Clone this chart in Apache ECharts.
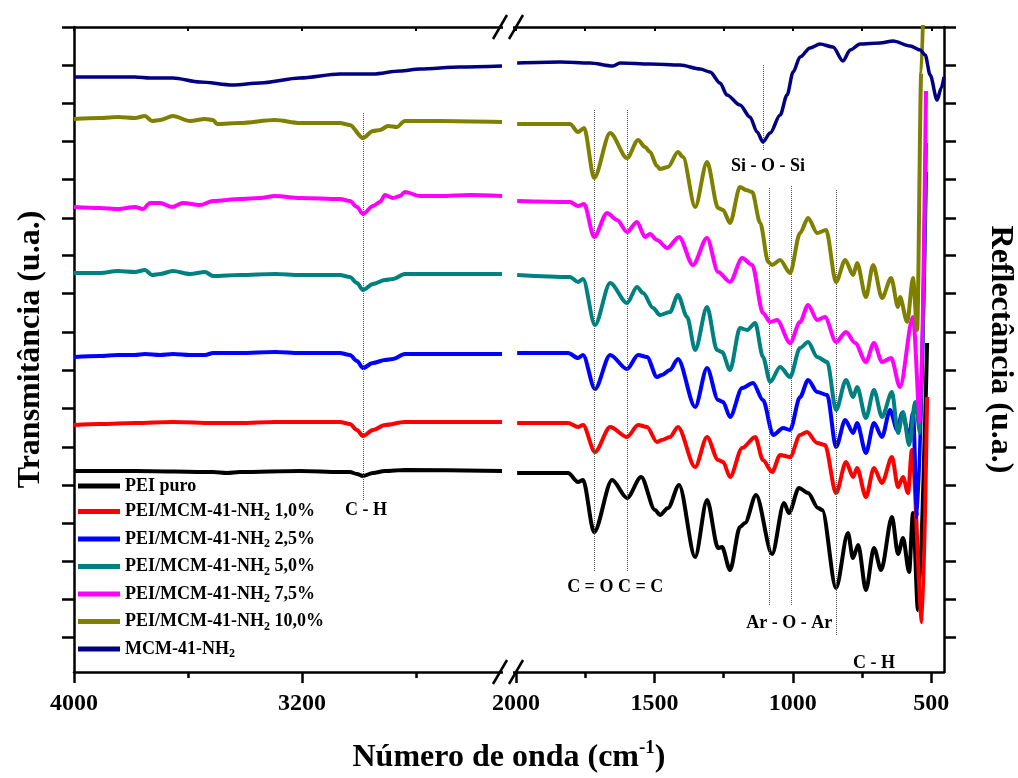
<!DOCTYPE html>
<html>
<head>
<meta charset="utf-8">
<script src="https://cdn.jsdelivr.net/npm/echarts@6/dist/echarts.min.js"></script>
<style>
  html, body { margin: 0; padding: 0; background: #fff; }
  #main { width: 1018px; height: 778px; }
</style>
</head>
<body>
<div id="main"></div>
<script>
// espectros FTIR: [numero de onda, transmitancia (u.a., com deslocamento)]
// trecho 4000-2500 cm-1 (esquerda) e 2000-450 cm-1 (direita)
var peiLeft = [[4000,20.1],[3786,20.1],[3512,20.0],[3463,19.9],[3418,20.0],[3207,20.1],[3067,20.0],[3032,20.0],[3007,19.8],[2986,19.6],[2951,19.9],[2909,20.1],[2839,20.2],[2498,20.1]];
var peiRight = [[1996,19.9],[1812,19.9],[1776,19.0],[1758,19.2],[1718,14.0],[1653,19.2],[1599,17.4],[1548,19.5],[1498,16.2],[1480,15.7],[1451,16.4],[1411,18.7],[1353,11.5],[1310,17.2],[1270,12.4],[1256,12.5],[1227,10.2],[1191,14.5],[1173,14.9],[1133,17.7],[1075,11.8],[1032,16.9],[1014,15.9],[978,18.4],[945,17.9],[909,16.4],[894,16.2],[844,8.4],[801,13.9],[783,11.4],[764,12.7],[736,8.2],[707,12.4],[681,10.2],[642,15.5],[620,11.8],[602,13.4],[580,10.0],[566,15.9],[548,6.2],[515,32.9]];

var p10Left = [[4000,24.7],[3909,24.8],[3786,24.9],[3653,25.0],[3512,24.9],[3418,24.9],[3295,25.0],[3067,25.0],[3032,24.8],[3007,24.2],[2986,23.6],[2951,24.2],[2909,24.7],[2839,25.0],[2498,25.0]];
var p10Right = [[1996,24.9],[1812,24.9],[1776,24.5],[1758,24.7],[1715,22.0],[1660,24.5],[1599,23.5],[1559,24.7],[1527,24.5],[1491,23.0],[1473,23.2],[1444,23.5],[1415,24.5],[1353,20.5],[1310,23.5],[1270,21.2],[1252,21.0],[1227,19.5],[1183,22.4],[1136,23.5],[1108,21.2],[1075,20.0],[1046,21.7],[1010,21.5],[974,23.7],[949,24.0],[912,22.9],[884,22.7],[844,17.9],[808,21.0],[782,19.5],[768,20.4],[736,17.5],[707,20.4],[678,18.9],[642,21.5],[620,18.5],[602,19.5],[584,17.9],[570,22.2],[533,5.0],[515,27.5]];

var p25Left = [[4000,31.5],[3909,31.6],[3846,31.7],[3786,31.7],[3751,31.8],[3698,31.7],[3653,31.8],[3593,31.7],[3540,31.7],[3512,31.9],[3418,31.9],[3295,32.0],[3207,31.9],[3067,31.9],[3032,31.7],[3007,31.1],[2986,30.4],[2951,30.9],[2909,31.2],[2881,31.3],[2839,31.8],[2716,31.8],[2498,31.8]];
var p25Right = [[1996,31.9],[1812,31.9],[1776,31.4],[1758,31.7],[1715,28.3],[1660,31.7],[1599,30.3],[1559,31.7],[1527,31.5],[1491,29.5],[1473,29.7],[1444,30.2],[1415,31.3],[1353,26.5],[1310,30.4],[1270,27.2],[1252,27.0],[1227,25.5],[1183,28.4],[1144,28.9],[1108,27.2],[1071,23.7],[1035,24.4],[1010,24.2],[974,27.5],[945,29.2],[912,28.0],[876,27.7],[844,22.5],[811,25.2],[782,23.9],[768,24.9],[736,21.9],[707,24.9],[678,23.5],[649,26.2],[623,24.2],[605,25.9],[580,23.5],[566,25.9],[551,15.5],[519,50.0]];

var p50Left = [[4000,39.9],[3909,39.9],[3846,40.1],[3786,40.0],[3751,40.2],[3726,39.7],[3698,39.8],[3653,40.1],[3593,39.8],[3540,40.0],[3512,39.6],[3418,39.7],[3295,39.8],[3207,39.7],[3067,39.7],[3032,39.5],[3007,38.9],[2986,38.2],[2951,38.8],[2909,39.2],[2881,39.3],[2839,39.8],[2716,39.8],[2498,39.8]];
var p50Right = [[1996,39.7],[1805,39.5],[1776,39.0],[1758,39.3],[1715,34.7],[1660,38.9],[1599,36.9],[1563,38.5],[1541,37.9],[1505,36.4],[1480,35.7],[1444,36.0],[1415,37.7],[1382,35.5],[1353,32.2],[1310,36.5],[1274,32.2],[1256,32.0],[1227,30.2],[1191,34.4],[1165,34.2],[1136,34.9],[1108,31.5],[1082,29.0],[1046,30.5],[1010,29.5],[974,32.4],[945,33.0],[912,31.5],[876,31.0],[844,26.2],[808,29.2],[782,27.5],[768,28.5],[736,25.4],[707,28.2],[678,25.5],[642,28.0],[620,23.9],[602,26.0],[580,22.7],[558,27.0],[540,23.9],[519,52.9]];

var p75Left = [[4000,46.5],[3909,46.4],[3846,46.3],[3786,46.5],[3758,46.3],[3733,46.9],[3698,46.9],[3656,46.5],[3618,46.9],[3558,46.7],[3512,47.1],[3418,47.3],[3347,47.4],[3295,47.6],[3207,47.4],[3067,47.3],[3032,47.1],[3007,46.5],[2986,45.8],[2951,46.6],[2926,47.0],[2909,47.7],[2881,47.4],[2856,47.6],[2839,48.0],[2786,47.6],[2716,47.6],[2611,47.7],[2498,47.6]];
var p75Right = [[1996,47.1],[1805,47.0],[1776,46.6],[1754,46.8],[1718,43.5],[1671,45.9],[1635,45.2],[1599,44.0],[1563,45.0],[1534,43.5],[1516,43.8],[1491,43.2],[1454,42.4],[1411,43.5],[1361,40.7],[1310,43.4],[1270,40.0],[1227,39.0],[1183,41.4],[1147,40.7],[1108,35.9],[1082,35.0],[1057,35.2],[1010,32.9],[974,35.0],[945,36.7],[912,35.2],[884,35.5],[844,33.0],[808,34.0],[775,32.9],[736,31.0],[707,32.9],[678,31.0],[645,31.4],[613,28.5],[566,35.5],[540,25.0],[519,58.1]];

var p100Left = [[4000,55.3],[3909,55.4],[3846,55.5],[3786,55.4],[3751,55.6],[3726,55.1],[3698,55.2],[3653,55.6],[3593,55.1],[3540,55.3],[3512,55.2],[3498,54.8],[3418,54.9],[3295,55.2],[3207,54.9],[3067,54.9],[3032,54.7],[2986,53.4],[2951,54.1],[2926,54.2],[2898,54.6],[2867,54.5],[2839,55.1],[2716,55.1],[2498,55.0]];
var p100Right = [[1996,54.8],[1805,54.8],[1776,54.0],[1754,54.4],[1718,49.4],[1660,53.9],[1599,51.4],[1559,53.2],[1534,52.5],[1516,52.0],[1491,50.6],[1480,50.3],[1451,50.5],[1415,52.0],[1397,51.5],[1353,46.5],[1310,51.0],[1270,46.4],[1252,46.2],[1227,44.9],[1191,48.5],[1169,48.2],[1147,48.0],[1118,44.9],[1089,41.0],[1075,40.7],[1046,41.2],[1010,39.9],[974,43.9],[945,45.4],[912,43.9],[880,44.2],[844,39.0],[811,41.2],[782,39.7],[768,40.9],[736,37.5],[710,40.7],[678,37.4],[645,39.4],[620,36.5],[613,37.5],[587,35.0],[566,39.4],[551,34.2],[536,60],[526,70]];

var mcmLeft = [[4000,59.5],[3786,59.5],[3733,59.4],[3653,59.4],[3558,59.0],[3442,58.7],[3347,58.9],[3207,59.4],[3067,59.8],[2951,59.8],[2856,60.1],[2786,60.3],[2646,60.5],[2498,60.6]];
var mcmRight = [[1996,60.9],[1841,61.0],[1733,60.9],[1650,60.6],[1624,60.9],[1516,60.8],[1407,60.7],[1335,60.3],[1299,60.0],[1263,58.9],[1238,57.7],[1191,56.7],[1155,55.5],[1129,54.0],[1108,53.0],[1082,53.9],[1046,55.7],[1021,57.7],[999,60.0],[974,61.5],[938,62.4],[902,62.8],[855,62.5],[819,61.1],[793,62.2],[757,62.8],[685,62.9],[638,63.1],[576,62.6],[540,62.2],[522,61.7],[504,59.7],[479,57.2],[464,58.4],[454,59.5]];

var seriesNames = ['PEI puro', 'PEI/MCM-41-NH2 1,0%', 'PEI/MCM-41-NH2 2,5%', 'PEI/MCM-41-NH2 5,0%', 'PEI/MCM-41-NH2 7,5%', 'PEI/MCM-41-NH2 10,0%', 'MCM-41-NH2'];
var seriesColors = ['#000000', '#ff0000', '#0000ff', '#008080', '#ff00ff', '#808000', '#000080'];
var leftData = [peiLeft, p10Left, p25Left, p50Left, p75Left, p100Left, mcmLeft];
var rightData = [peiRight, p10Right, p25Right, p50Right, p75Right, p100Right, mcmRight];

// eixos
var leftMajorTicks = [4000, 3200];
var leftMinorTicks = [3600, 2800];
var rightMajorTicks = [2000, 1500, 1000, 500];
var rightMinorTicks = [1750, 1250, 750];
var yTicks = [3.5, 7.3, 11.1, 14.9, 18.7, 22.5, 26.4, 30.2, 34.0, 37.9, 41.7, 45.4, 49.3, 53.1, 56.9, 60.7, 64.5];

// linhas pontilhadas: [numero de onda, topo, base]
var guideLeft = [[2986, 55.9, 17.2]];
var guideRight = [[1718, 56.2, 10.0], [1599, 56.2, 10.0], [1108, 60.7, 52.2], [1086, 48.4, 6.6], [1006, 48.6, 6.7], [844, 48.2, 3.6]];
// rotulos das bandas: [texto, numero de onda, y]
var bandLeft = [['C - H', 2975, 16.2]];
var bandRight = [['C = O C = C', 1642, 8.5], ['Si - O - Si', 1090, 50.6], ['Ar - O - Ar', 1013, 4.9], ['C - H', 707, 0.9]];

var FONT = 'Liberation Serif';
var myChart = echarts.init(document.getElementById('main'));

function bottomAxis(grid, min, max, major, minor) {
  return [
    { gridIndex: grid, type: 'value', inverse: true, min: min, max: max, position: 'bottom',
      axisLine: { show: true, lineStyle: { color: '#000', width: 2.5 } },
      axisTick: { show: true, inside: false, length: 11, customValues: major, lineStyle: { color: '#000', width: 2.5 } },
      axisLabel: { show: true, customValues: major, margin: 20, color: '#000', fontFamily: FONT, fontWeight: 'bold', fontSize: 24,
        formatter: function (v) { return String(v); } },
      splitLine: { show: false } },
    { gridIndex: grid, type: 'value', inverse: true, min: min, max: max, position: 'bottom',
      axisLine: { show: false },
      axisTick: { show: true, inside: false, length: 6, customValues: minor, lineStyle: { color: '#000', width: 2.5 } },
      axisLabel: { show: false }, splitLine: { show: false } },
    { gridIndex: grid, type: 'value', inverse: true, min: min, max: max, position: 'top',
      axisLine: { show: true, lineStyle: { color: '#000', width: 2.5 } },
      axisTick: { show: true, inside: true, length: 4, customValues: major.concat(minor), lineStyle: { color: '#000', width: 2 } },
      axisLabel: { show: false }, splitLine: { show: false } }
  ];
}

function guides(list) {
  return {
    silent: true, symbol: 'none', animation: false,
    label: { show: false },
    lineStyle: { type: 'dotted', color: '#555', width: 1 },
    data: list.map(function (g) { return [{ coord: [g[0], g[1]] }, { coord: [g[0], g[2]] }]; })
  };
}

function bands(list) {
  return {
    silent: true, symbol: 'circle', symbolSize: 1, animation: false,
    itemStyle: { color: 'transparent' },
    label: { show: true, position: 'inside', formatter: '{b}', color: '#000', fontFamily: FONT, fontWeight: 'bold', fontSize: 18 },
    data: list.map(function (b) { return { name: b[0], coord: [b[1], b[2]] }; })
  };
}

var series = [];
seriesNames.forEach(function (name, i) {
  var common = {
    name: name, type: 'line', showSymbol: false, smooth: 0.3, smoothMonotone: 'x',
    color: seriesColors[i],
    lineStyle: { color: seriesColors[i], width: i === 6 ? 3.5 : 4 },
    itemStyle: { color: seriesColors[i] },
    emphasis: { disabled: true }, z: 2 + i
  };
  var l = Object.assign({}, common, { xAxisIndex: 0, yAxisIndex: 0, data: leftData[i] });
  var r = Object.assign({}, common, { xAxisIndex: 3, yAxisIndex: 1, data: rightData[i] });
  if (i === 0) {
    l.markLine = guides(guideLeft); l.markPoint = bands(bandLeft);
    r.markLine = guides(guideRight); r.markPoint = bands(bandRight);
  }
  series.push(l, r);
});

function legendName(name) {
  var k = name.indexOf('NH2');
  if (k < 0) return '{a|' + name + '}';
  return '{a|' + name.slice(0, k + 2) + '}{s|2}{a|' + name.slice(k + 3) + '}';
}

function yAxis(grid, pos, name, rot, gap) {
  return {
    gridIndex: grid, type: 'value', min: 0, max: 64.5, position: pos,
    name: name, nameLocation: 'middle', nameRotate: rot, nameGap: gap,
    nameTextStyle: { color: '#000', fontFamily: FONT, fontWeight: 'bold', fontSize: 32 },
    axisLine: { show: true, lineStyle: { color: '#000', width: 2.5 } },
    axisTick: { show: true, inside: false, length: 12, customValues: yTicks, lineStyle: { color: '#000', width: 2.5 } },
    axisLabel: { show: false }, splitLine: { show: false }
  };
}

var breakMarks = [];
[27, 672].forEach(function (y) {
  breakMarks.push({ type: 'rect', shape: { x: 503, y: y - 3, width: 10, height: 6 }, style: { fill: '#fff' }, z: 100 });
  [500, 516].forEach(function (cx) {
    breakMarks.push({ type: 'line', shape: { x1: cx - 7, y1: y + 12, x2: cx + 7, y2: y - 12 }, style: { stroke: '#000', lineWidth: 2.5 }, z: 101 });
  });
});

myChart.setOption({
  animation: false,
  backgroundColor: '#fff',
  title: {
    text: '{a|Número de onda (cm}{p|-1}{a|)}',
    left: 'center', top: 734,
    textStyle: {
      rich: {
        a: { fontFamily: FONT, fontWeight: 'bold', fontSize: 32, color: '#000', lineHeight: 38 },
        p: { fontFamily: FONT, fontWeight: 'bold', fontSize: 19, color: '#000', lineHeight: 18, verticalAlign: 'top' }
      }
    }
  },
  legend: {
    orient: 'vertical', left: 78, top: 477, padding: 0,
    data: seriesNames, icon: 'rect', itemWidth: 42, itemHeight: 5, itemGap: 7.5,
    selectedMode: false,
    formatter: legendName,
    textStyle: {
      rich: {
        a: { fontFamily: FONT, fontWeight: 'bold', fontSize: 18, color: '#000', lineHeight: 22 },
        s: { fontFamily: FONT, fontWeight: 'bold', fontSize: 12, color: '#000', lineHeight: 8, verticalAlign: 'bottom' }
      }
    }
  },
  grid: [
    { left: 74, top: 27, width: 434, height: 645 },
    { left: 508, top: 27, width: 436, height: 645 }
  ],
  xAxis: bottomAxis(0, 2477, 4000, leftMajorTicks, leftMinorTicks)
    .concat(bottomAxis(1, 454, 2029, rightMajorTicks, rightMinorTicks)),
  yAxis: [
    yAxis(0, 'left', 'Transmitância (u.a.)', 90, 27),
    yAxis(1, 'right', 'Reflectância (u.a.)', -90, 40)
  ],
  graphic: breakMarks,
  series: series
});
</script>
</body>
</html>
